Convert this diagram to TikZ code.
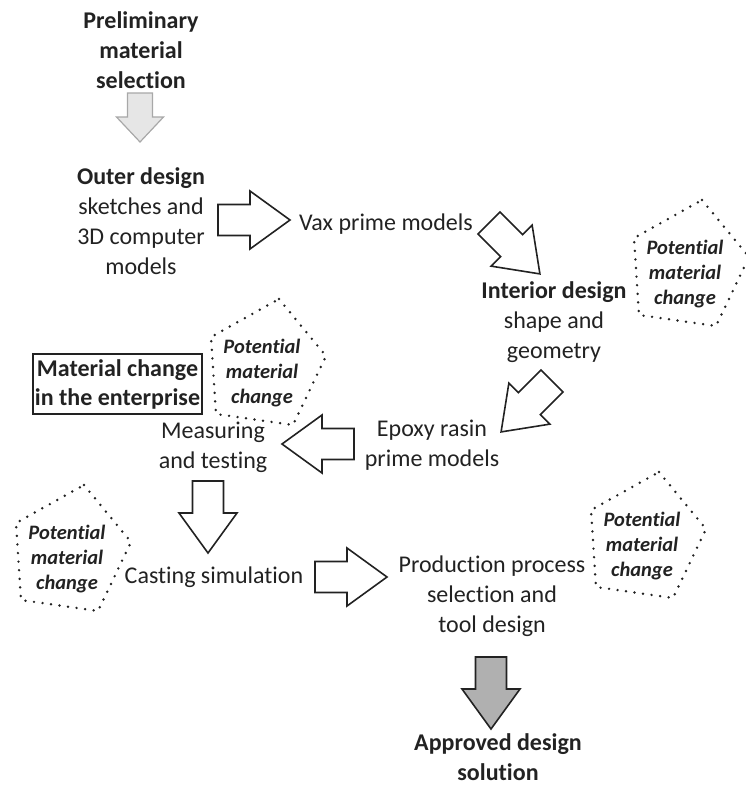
\documentclass[tikz,border=0pt]{standalone}
\usepackage{fontspec}
\setmainfont{Carlito}[Ligatures=NoCommon]
\definecolor{ink}{HTML}{222222}
\definecolor{lightfill}{HTML}{E6E6E6}
\definecolor{lightedge}{HTML}{A8A8A8}
\definecolor{darkfill}{HTML}{B0B0B0}
\begin{document}
\begin{tikzpicture}[x=1pt,y=-1pt]
\tikzset{
  txt/.style={align=center,inner sep=0pt,text=ink,font=\fontsize{24}{30}\selectfont},
  btxt/.style={align=center,inner sep=0pt,text=ink,font=\fontsize{24}{30}\selectfont\bfseries},
  ptxt/.style={align=center,inner sep=0pt,text=ink,font=\fontsize{20.5}{25}\selectfont\bfseries\itshape},
  arr/.style={draw=ink,line width=1.6pt,fill=white,line join=miter},
  grayarr/.style={draw=lightedge,line width=1.2pt,fill=lightfill},
  darkarr/.style={draw=ink,line width=1.6pt,fill=darkfill},
  dots/.style={draw=ink,line width=2.7pt,line cap=round,dash pattern=on 0pt off 8.6pt},
  blockarrow/.pic={\path[pic actions] (0,-15.5) -- (32,-15.5) -- (32,-29) -- (72,0) -- (32,29) -- (32,15.5) -- (0,15.5) -- cycle;},
  smallarrow/.pic={\path[pic actions] (0,-12.5) -- (24,-12.5) -- (24,-23.5) -- (49,0) -- (24,23.5) -- (24,12.5) -- (0,12.5) -- cycle;},
  pentagon/.pic={\path[pic actions] (17,-74) -- (64,-17) -- (31,52) -- (-46,41) -- (-51,-36) -- cycle;}
}
\useasboundingbox (0,0) rectangle (745,787);

% texts
\node[btxt] (prelim) at (141,50) {Preliminary\\material\\selection};
\node[txt] (outer) at (141,221) {\textbf{Outer design}\\sketches and\\3D computer\\models};
\node[txt] (vax) at (386,224) {Vax prime models};
\node[txt] (interior) at (554,322) {\textbf{Interior design}\\shape and\\geometry};
\node[txt] (epoxy) at (432,445) {Epoxy rasin\\prime models};
\node[txt] (measure) at (213,447) {Measuring\\and testing};
\node[txt] (casting) at (214,577) {Casting simulation};
\node[txt] (production) at (492,596) {Production process\\selection and\\tool design};
\node[btxt] (approved) at (498,757) {Approved design\\solution};
\node[btxt,draw=ink,line width=1.3pt,minimum width=169pt,minimum height=60pt,font=\fontsize{24}{29}\selectfont\bfseries] (enterprise) at (117.5,384) {Material change\\in the enterprise};

% potential material change pentagons
\node[ptxt] (p1) at (685,274) {Potential\\material\\change};
\node[ptxt] (p2) at (262,373) {Potential\\material\\change};
\node[ptxt] (p3) at (67,559) {Potential\\material\\change};
\node[ptxt] (p4) at (642,546) {Potential\\material\\change};
\pic[dots] at (p1) {pentagon};
\pic[dots] at (p2) {pentagon};
\pic[dots] at (p3) {pentagon};
\pic[dots] at (p4) {pentagon};

% block arrows
\pic[grayarr,rotate=-90] at (140,93) {smallarrow};
\pic[arr] at (218,220) {blockarrow};
\pic[arr,rotate=-45] at (489,223) {blockarrow};
\pic[arr,rotate=-135] at (552,381) {blockarrow};
\pic[arr,rotate=180] at (354,444) {blockarrow};
\pic[arr,rotate=-90] at (208,481) {blockarrow};
\pic[arr] at (315,577) {blockarrow};
\pic[darkarr,rotate=-90] at (491,657) {blockarrow};
\end{tikzpicture}
\end{document}
